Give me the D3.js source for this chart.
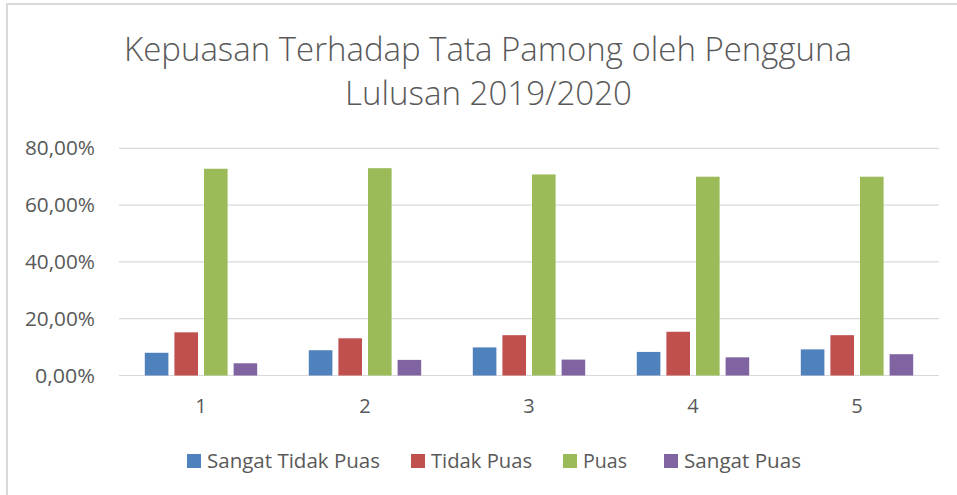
<!DOCTYPE html>
<html>
<head>
<meta charset="utf-8">
<script src="https://cdn.jsdelivr.net/npm/d3@7"></script>
<style>
	body { margin: 0; background: #fff; }
	svg { display: block; }
	text { font-family: 'Open Sans', 'Liberation Sans', sans-serif; fill: #595959; }
</style>
</head>
<body>
<script>
let categories = ['1', '2', '3', '4', '5']
let seriesNames = ['Sangat Tidak Puas', 'Tidak Puas', 'Puas', 'Sangat Puas']
let seriesColors = ['#4f81bd', '#c0504d', '#9bbb59', '#8064a2']
let sangatTidakPuas = [8.0, 8.9, 9.9, 8.3, 9.2]
let tidakPuas = [15.2, 13.1, 14.2, 15.4, 14.2]
let puas = [72.8, 73.0, 70.8, 70.0, 70.0]
let sangatPuas = [4.3, 5.5, 5.6, 6.4, 7.5]
let yTicks = [0, 20, 40, 60, 80]
let titleLines = ['Kepuasan Terhadap Tata Pamong oleh Pengguna', 'Lulusan 2019/2020']

let series = [sangatTidakPuas, tidakPuas, puas, sangatPuas]

let width = 957, height = 495
let plotL = 119, plotR = 939, plotT = 148.3, plotB = 375.5

let svg = d3.select('body').append('svg')
	.attr('width', width)
	.attr('height', height)

// squeeze text to a given width (Calibri is narrower than Open Sans)
function squeeze(sel, w) {
	sel.attr('textLength', w).attr('lengthAdjust', 'spacingAndGlyphs')
}

// outer border of the chart area
svg.append('path')
	.attr('d', `M7,${height} V4 H${width}`)
	.attr('fill', 'none')
	.attr('stroke', '#d9d9d9')
	.attr('stroke-width', 2)

// title
svg.append('text')
	.attr('x', 488).attr('y', 61)
	.attr('text-anchor', 'middle')
	.style('font-weight', 300)
	.style('font-size', '33px')
	.text(titleLines[0])
	.call(squeeze, 728)
svg.append('text')
	.attr('x', 488.5).attr('y', 105)
	.attr('text-anchor', 'middle')
	.style('font-weight', 300)
	.style('font-size', '33px')
	.text(titleLines[1])
	.call(squeeze, 287)

let x = d3.scaleBand().domain(categories).range([plotL, plotR])
let y = d3.scaleLinear().domain([0, 80]).range([plotB, plotT])
let slot = 29.6
let x1 = d3.scaleBand().domain(d3.range(series.length)).range([-2 * slot, 2 * slot])

// grid
svg.append('g').selectAll('line')
	.data(yTicks)
	.join('line')
	.attr('x1', plotL).attr('x2', plotR)
	.attr('y1', d => y(d)).attr('y2', d => y(d))
	.attr('stroke', '#d9d9d9')
	.attr('stroke-width', 1.2)

// y labels
svg.append('g').selectAll('text')
	.data(yTicks)
	.join('text')
	.attr('x', 95)
	.attr('y', d => y(d) + 7)
	.attr('text-anchor', 'end')
	.style('font-size', '20px')
	.text(d => d3.format('.2f')(d).replace('.', ',') + '%')
	.each(function (d) {
		let s = d3.select(this)
		s.call(squeeze, d === 0 ? 60 : 70)
	})

// bars
let barW = 23.6
svg.append('g').selectAll('g')
	.data(series)
	.join('g')
	.attr('fill', (d, i) => seriesColors[i])
	.each(function (vals, si) {
		d3.select(this).selectAll('rect')
			.data(vals)
			.join('rect')
			.attr('x', (v, ci) => x(categories[ci]) + x.bandwidth() / 2 + x1(si) + (slot - barW) / 2)
			.attr('width', barW)
			.attr('y', v => y(v))
			.attr('height', v => y(0) - y(v))
	})

// x labels
svg.append('g').selectAll('text')
	.data(categories)
	.join('text')
	.attr('x', d => x(d) + x.bandwidth() / 2)
	.attr('y', 413)
	.attr('text-anchor', 'middle')
	.style('font-size', '20px')
	.text(d => d)

// legend
let legendX = [187, 411, 563, 664]
let legendW = [173, 101, 44, 117]
let lg = svg.append('g').selectAll('g')
	.data(seriesNames)
	.join('g')
	.attr('transform', (d, i) => `translate(${legendX[i]},454)`)
lg.append('rect')
	.attr('width', 14).attr('height', 14)
	.attr('fill', (d, i) => seriesColors[i])
lg.append('text')
	.attr('x', 20).attr('y', 14)
	.style('font-size', '20px')
	.text(d => d)
	.each(function (d, i) { d3.select(this).call(squeeze, legendW[i]) })
</script>
</body>
</html>
